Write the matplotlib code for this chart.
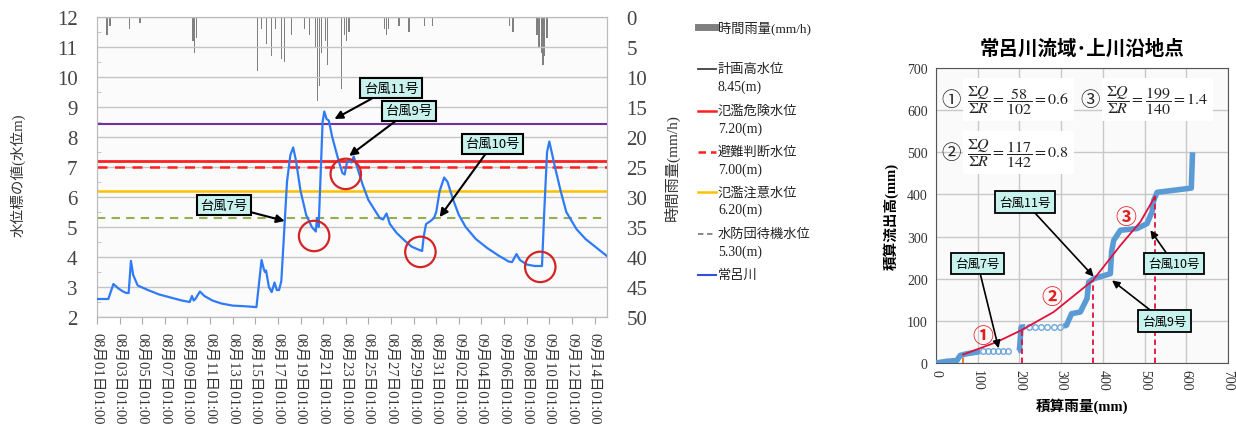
import matplotlib
matplotlib.use('Agg')
import matplotlib.pyplot as plt
from matplotlib.lines import Line2D
import numpy as np

plt.rcParams['font.family'] = ['Noto Sans CJK JP', 'DejaVu Sans']
plt.rcParams['mathtext.fontset'] = 'stix'
plt.rcParams['axes.unicode_minus'] = False

MIX = ['Liberation Serif', 'Noto Sans CJK JP']
CJK = ['Noto Sans CJK JP', 'DejaVu Sans']

# ---------------- data: left chart ----------------
xtick_labels = ['08月01日01:00', '08月03日01:00', '08月05日01:00', '08月07日01:00',
                '08月09日01:00', '08月11日01:00', '08月13日01:00', '08月15日01:00',
                '08月17日01:00', '08月19日01:00', '08月21日01:00', '08月23日01:00',
                '08月25日01:00', '08月27日01:00', '08月29日01:00', '08月31日01:00',
                '09月02日01:00', '09月04日01:00', '09月06日01:00', '09月08日01:00',
                '09月10日01:00', '09月12日01:00', '09月14日01:00']

wl_day = [0.0, 1.0, 1.45, 1.9, 2.3, 2.6, 2.8, 3.0, 3.2, 3.6, 4.5, 5.5, 6.5, 7.5, 8.2,
          8.4, 8.55, 8.7, 9.1, 9.5, 10.2, 11.0, 12.0, 13.0, 14.1, 14.35, 14.55, 14.75,
          14.85, 14.95, 15.2, 15.45, 15.7, 15.9, 16.1, 16.3, 16.5, 16.8, 17.1, 17.35,
          17.6, 18.0, 18.5, 19.0, 19.35, 19.45, 19.6, 19.75, 19.95, 20.1, 20.3, 20.5,
          20.8, 21.3, 21.7, 21.9, 22.1, 22.35, 22.5, 22.7, 23.0, 23.5, 24.0, 24.5, 25.0,
          25.3, 25.6, 25.9, 26.5, 27.2, 27.8, 28.4, 28.75, 28.9, 29.1, 29.5, 29.8, 30.0,
          30.3, 30.7, 31.0, 31.5, 32.0, 32.6, 33.5, 34.5, 35.5, 36.4, 36.7, 37.1, 37.4,
          38.0, 38.7, 39.35, 39.55, 39.8, 40.0, 40.5, 41.0, 41.5, 42.4, 43.2, 44.2, 45.1]
wl_val = [2.6, 2.6, 3.1, 2.95, 2.85, 2.8, 2.8, 3.87, 3.4, 3.05, 2.9, 2.75, 2.65, 2.55, 2.5,
          2.7, 2.55, 2.6, 2.85, 2.7, 2.55, 2.45, 2.38, 2.36, 2.33, 3.2, 3.9, 3.6,
          3.5, 3.55, 3.0, 2.83, 3.15, 2.9, 2.9, 3.2, 4.5, 6.5, 7.4, 7.65,
          7.2, 6.2, 5.4, 5.0, 4.85, 5.3, 5.0, 6.5, 8.5, 8.85, 8.6, 8.55,
          8.0, 7.3, 6.8, 6.75, 7.15, 7.2, 7.15, 7.35, 7.0, 6.4, 5.9, 5.6, 5.3,
          5.25, 5.45, 5.1, 4.8, 4.55, 4.35, 4.25, 4.2, 4.7, 5.1, 5.2, 5.3, 5.5,
          6.2, 6.65, 6.5, 5.9, 5.4, 5.0, 4.6, 4.3, 4.05, 3.85, 3.83, 4.1, 3.9,
          3.75, 3.7, 3.7, 5.5, 7.5, 7.85, 7.0, 6.2, 5.5, 4.93, 4.6, 4.3, 4.03]

rain_day = [0.88, 1.15, 2.9, 3.8, 8.5, 8.65, 8.8, 14.2, 14.55, 15.0, 15.45, 15.8, 16.3,
            16.6, 17.2, 18.35, 18.8, 19.33, 19.5, 19.7, 19.85, 20.2, 20.4, 21.6, 21.9,
            22.05, 22.3, 25.4, 25.6, 25.8, 26.7, 27.6, 28.95, 29.65, 36.45, 36.8, 38.9,
            39.1, 39.3, 39.45, 39.6, 39.8]
rain_val = [3.0, 1.5, 2.0, 1.0, 4.0, 6.0, 3.5, 9.0, 2.0, 4.5, 6.5, 2.0, 7.0,
            7.5, 3.0, 2.0, 3.0, 5.0, 14.0, 11.5, 6.0, 4.0, 8.0, 12.0, 3.0,
            4.0, 2.5, 2.0, 3.0, 2.0, 1.5, 2.5, 1.5, 1.5, 1.5, 2.5, 3.0,
            5.0, 6.0, 8.0, 6.5, 3.5]

level_vals = [8.45, 7.20, 7.00, 6.20, 5.30]
level_colors = ['#7030A0', '#FF2020', '#FF2020', '#FFC000', '#92B050']
level_styles = ['-', '-', (0, (4, 3)), '-', (0, (4, 3))]
level_widths = [1.5, 2.0, 1.8, 1.8, 1.5]

leg_names = ['時間雨量(mm/h)', '計画高水位', '氾濫危険水位', '避難判断水位',
             '氾濫注意水位', '水防団待機水位', '常呂川']
leg_sub = ['', '8.45(m)', '7.20(m)', '7.00(m)', '6.20(m)', '5.30(m)', '']

typhoon_names = ['台風7号', '台風11号', '台風9号', '台風10号']
typhoon_text_day = [11.2, 26.0, 27.6, 35.0]
typhoon_text_val = [5.73, 9.63, 8.87, 7.77]
typhoon_tip_day = [16.6, 21.0, 22.3, 30.3]
typhoon_tip_val = [5.2, 8.6, 7.37, 5.33]

circle_day = [19.2, 22.0, 28.6, 39.2]
circle_val = [4.7, 6.77, 4.17, 3.67]

# ---------------- data: right chart ----------------
cr_x = [0, 25, 50, 58, 74, 106, np.nan, 196, 200, 204, 214, np.nan, 306, 313, 325, 346,
        362, 366, 378, 418, 421, 426, 442, 482, 506, 518, 522, 530, 612, 615]
cr_y = [0, 4, 6, 18, 22, 27, np.nan, 28, 30, 85, 86, np.nan, 87, 90, 117, 121,
        153, 192, 200, 212, 264, 291, 315, 319, 331, 359, 386, 405, 415, 500]
circ_x = [112, 124, 136, 148, 160, 172, 222, 237, 252, 267, 282, 297]
circ_y = [28, 28, 28, 28, 28, 28, 86, 86, 86, 86, 86, 86]

rc_x = [65, 146, 205, 282, 376, 442, 490, 525]
rc_y = [20, 50, 78, 121, 196, 279, 335, 395]
vl_x = [65, 205, 376, 525]
vl_top = [20, 78, 196, 395]
vl_colors = ['#E07030', '#E0103C', '#E0103C', '#E0103C']

num_marks = ['①', '②', '③']
num_x = [113, 277, 456]
num_y = [66, 157, 347]

formula_marks = ['①', '③', '②']
formulas = [r'$\dfrac{\Sigma Q}{\Sigma R}=\dfrac{58}{102}=0.6$',
            r'$\dfrac{\Sigma Q}{\Sigma R}=\dfrac{199}{140}=1.4$',
            r'$\dfrac{\Sigma Q}{\Sigma R}=\dfrac{117}{142}=0.8$']
formula_x = [12, 345, 12]
formula_y = [625, 625, 500]

r_typh_names = ['台風11号', '台風7号', '台風10号', '台風9号']
r_typh_tx = [213, 100, 570, 548]
r_typh_ty = [382, 236, 236, 99]
r_typh_px = [378, 150, 514, 422]
r_typh_py = [205, 35, 315, 196]

# ---------------- figure ----------------
W, H = 1236, 439
fig = plt.figure(figsize=(W / 100, H / 100), dpi=100)
fig.patch.set_facecolor('white')


def fx(px):
    return px / W


def fy(py):
    return 1 - py / H


# ---- left chart ----
ax = fig.add_axes([fx(97), fy(318), fx(607) - fx(97), fy(18) - fy(318)])
ax.set_xlim(0, 45.1)
ax.set_ylim(2, 12)
ax.set_yticks(range(2, 13))
ax.set_yticks(np.arange(2, 12, 0.5), minor=True)
ax.yaxis.grid(True, color='#c4c4c4', lw=1.0)
ax.set_axisbelow(True)
ax.set_xticks(np.arange(len(xtick_labels)) * 2)
ax.set_xticklabels(xtick_labels, rotation=270, family=MIX, fontsize=10.5, color='#333333')
for lab in ax.get_yticklabels():
    lab.set_family(MIX)
ax.tick_params(axis='y', which='major', labelsize=15, colors='#bbbbbb', labelcolor='#444444', length=0, pad=14)
ax.tick_params(axis='y', which='minor', length=3, direction='in', colors='#bbbbbb')
ax.tick_params(axis='x', length=5, colors='#aaaaaa', labelcolor='#333333', pad=6)
for s in ax.spines.values():
    s.set_color('#bbbbbb')

for v, c, ls, lw in zip(level_vals, level_colors, level_styles, level_widths):
    ax.axhline(v, color=c, ls=ls, lw=lw, zorder=2)

ax2 = ax.twinx()
ax2.bar(rain_day, rain_val, width=0.12, color='#808080', zorder=1)
ax2.set_ylim(50, 0)
ax2.set_yticks(range(0, 51, 5))
for lab in ax2.get_yticklabels():
    lab.set_family(MIX)
ax2.tick_params(axis='y', labelsize=15, length=0, labelcolor='#444444', pad=14)
for s in ax2.spines.values():
    s.set_color('#bbbbbb')
ax.patch.set_visible(False)
ax2.patch.set_visible(True)
ax2.patch.set_facecolor('#fbfbfb')
ax.set_zorder(2)
ax2.set_zorder(1)

ax.plot(wl_day, wl_val, color='#2F7BF5', lw=1.6, zorder=4)
ax.scatter(circle_day, circle_val, s=480, facecolors='none', edgecolors='#D42424',
           linewidths=1.6, zorder=5)

for name, tx, ty, px, py in zip(typhoon_names, typhoon_text_day, typhoon_text_val,
                                typhoon_tip_day, typhoon_tip_val):
    ax.annotate(name, xy=(px, py), xytext=(tx, ty), fontsize=9.5, family=CJK,
                ha='center', va='center', zorder=6,
                bbox=dict(boxstyle='square,pad=0.25', fc='#C8F2EE', ec='black', lw=1.5),
                arrowprops=dict(arrowstyle='-|>', color='black', lw=1.5,
                                mutation_scale=12, shrinkA=0, shrinkB=0))

fig.text(fx(18), fy(175), '水位標の値(水位m)', rotation=90, fontsize=10.5,
         ha='center', va='center', family=MIX, color='#333333')
fig.text(fx(672), fy(168), '時間雨量(mm/h)', rotation=90, fontsize=11,
         ha='center', va='center', family=MIX, color='#333333')

# ---- legend (manual) ----
leg_rows = [28, 70, 112, 153, 193, 235, 276]
leg_handle_colors = ['#7f7f7f', '#404040', '#FF2020', '#FF2020', '#FFC000', '#808080', '#3050E0']
leg_handle_styles = ['-', '-', '-', (0, (3, 2)), '-', (0, (3, 2)), '-']
leg_handle_widths = [5, 1.3, 1.8, 1.8, 1.8, 1.3, 1.5]
for name, sub, row, c, ls, lw in zip(leg_names, leg_sub, leg_rows, leg_handle_colors,
                                     leg_handle_styles, leg_handle_widths):
    fig.add_artist(Line2D([fx(698), fx(716)], [fy(row), fy(row)], color=c, ls=ls, lw=lw))
    fig.text(fx(718), fy(row), name, fontsize=9.5, family=MIX, va='center', ha='left',
             color='#222222')
    if sub:
        fig.text(fx(718), fy(row + 17), sub, fontsize=10, family=MIX, va='center',
                 ha='left', color='#222222')

# ---- right chart ----
bx = fig.add_axes([fx(936), fy(364), fx(1228) - fx(936), fy(69) - fy(364)])
bx.set_xlim(0, 700)
bx.set_ylim(0, 700)
bx.set_xticks(range(0, 701, 100))
bx.set_yticks(range(0, 701, 100))
bx.grid(True, color='#c8c8c8', lw=1.0)
bx.set_axisbelow(True)
bx.set_facecolor('#fafafa')
for lab in bx.get_xticklabels() + bx.get_yticklabels():
    lab.set_family(MIX)
bx.tick_params(axis='x', labelrotation=270, labelsize=10, length=0, pad=4, labelcolor='#333333')
bx.tick_params(axis='y', labelsize=10, length=0, pad=6, labelcolor='#333333')
for s in bx.spines.values():
    s.set_color('#555555')

bx.plot(cr_x, cr_y, color='#5B9BD5', lw=4, solid_capstyle='butt', zorder=3)
bx.plot(circ_x, circ_y, ls='none', marker='o', ms=4, mfc='none', mec='#6FA8DC',
        mew=1.0, zorder=3)
bx.plot(rc_x, rc_y, color='#E0103C', lw=1.3, zorder=4)
for x0, top, c in zip(vl_x, vl_top, vl_colors):
    bx.vlines(x0, 0, top, colors=c, linestyles=(0, (3, 2)), lw=1.3, zorder=4)
for m, x0, y0 in zip(num_marks, num_x, num_y):
    bx.text(x0, y0, m, color='#E02020', fontsize=15, fontweight='bold', family=CJK,
            ha='center', va='center', zorder=6)
for mk, f, x0, y0 in zip(formula_marks, formulas, formula_x, formula_y):
    t = bx.annotate(mk, xy=(x0, y0), fontsize=14, family=CJK, ha='left', va='center',
                    zorder=6, color='#222222')
    bx.annotate(f, xy=(x0, y0), xytext=(19, 0), textcoords='offset points',
                fontsize=11.5, ha='left', va='center', zorder=6, color='#222222',
                bbox=dict(boxstyle='square,pad=0.3', fc='white', ec='none'))
for name, tx, ty, px, py in zip(r_typh_names, r_typh_tx, r_typh_ty, r_typh_px, r_typh_py):
    bx.annotate(name, xy=(px, py), xytext=(tx, ty), fontsize=9, family=CJK,
                ha='center', va='center', zorder=7,
                bbox=dict(boxstyle='square,pad=0.35', fc='#C8F2EE', ec='black', lw=1.3),
                arrowprops=dict(arrowstyle='-|>', color='black', lw=1.2,
                                mutation_scale=11, shrinkA=0, shrinkB=0))

bx.set_title('常呂川流域･上川沿地点', fontsize=14, fontweight='bold', family=CJK, pad=10)
bx.set_xlabel('積算雨量(mm)', fontsize=10.5, family=MIX, fontweight='bold', labelpad=6)
bx.set_ylabel('積算流出高(mm)', fontsize=10.5, family=MIX, fontweight='bold', labelpad=6)

fig.savefig('out.png', dpi=100)
